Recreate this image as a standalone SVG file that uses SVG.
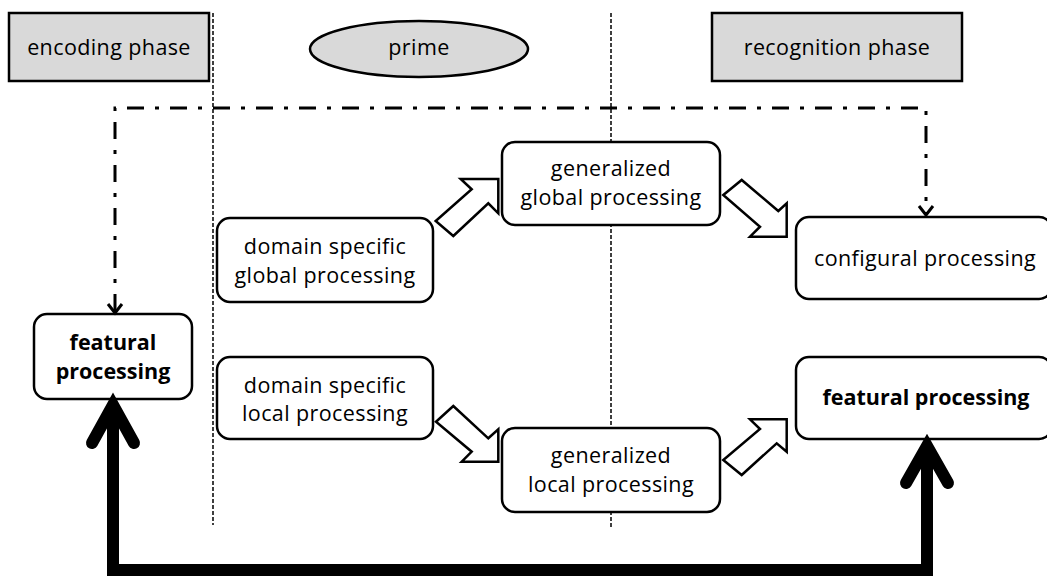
<svg xmlns="http://www.w3.org/2000/svg" width="1047" height="576" viewBox="0 0 1047 576">
<style>
.box{fill:#fff;stroke:#000;stroke-width:2.5}
.phase{fill:#d9d9d9;stroke:#000;stroke-width:2.5}
.t{font-family:"Open Sans","Liberation Sans",sans-serif;font-size:21.5px;letter-spacing:0.4px;fill:#000;text-anchor:middle}
.b{font-weight:bold;letter-spacing:0}
.sep{stroke:#000;stroke-width:1.5;stroke-dasharray:4 2;fill:none}
.dd{stroke:#000;stroke-width:3;stroke-dasharray:17 11 4 11;fill:none}
.blk{fill:#fff;stroke:#000;stroke-width:2.5;stroke-linejoin:miter}
.thick{fill:none;stroke:#000;stroke-width:12;stroke-linecap:round;stroke-linejoin:miter}
</style>
<g id="separators">
<line class="sep" x1="213" y1="13" x2="213" y2="525"/>
<line class="sep" x1="611" y1="13" x2="611" y2="527"/>
</g>
<g id="encoding-phase">
<rect class="phase" x="9" y="13" width="200" height="68"/>
<text class="t" x="109" y="55">encoding phase</text>
</g>
<g id="prime">
<ellipse class="phase" cx="419" cy="49" rx="109" ry="28"/>
<text class="t" x="419" y="55">prime</text>
</g>
<g id="recognition-phase">
<rect class="phase" x="712" y="13" width="250" height="68"/>
<text class="t" x="837" y="55">recognition phase</text>
</g>
<g id="featural-left">
<rect class="box" x="34" y="314" width="158" height="85" rx="13"/>
<text class="t b" x="113" y="350">featural</text>
<text class="t b" x="113" y="379">processing</text>
</g>
<g id="domain-global">
<rect class="box" x="217" y="218" width="216" height="84" rx="13"/>
<text class="t" x="325" y="254">domain specific</text>
<text class="t" x="325" y="283">global processing</text>
</g>
<g id="domain-local">
<rect class="box" x="217" y="357" width="216" height="82" rx="13"/>
<text class="t" x="325" y="393">domain specific</text>
<text class="t" x="325" y="421">local processing</text>
</g>
<g id="general-global">
<rect class="box" x="502" y="142" width="218" height="83" rx="13"/>
<text class="t" x="611" y="176">generalized</text>
<text class="t" x="611" y="205">global processing</text>
</g>
<g id="general-local">
<rect class="box" x="502" y="428" width="218" height="84" rx="13"/>
<text class="t" x="611" y="463">generalized</text>
<text class="t" x="611" y="492">local processing</text>
</g>
<g id="configural">
<rect class="box" x="796" y="217" width="256" height="82" rx="13"/>
<text class="t" x="925" y="266">configural processing</text>
</g>
<g id="featural-right">
<rect class="box" x="796" y="357" width="256" height="82" rx="13"/>
<text class="t b" x="926" y="405">featural processing</text>
</g>
<g id="connectors">
<path class="dd" d="M115,311 L115,108 L926,108 L926,214"/>
<path d="M108,304 L115,313 L122,304" fill="none" stroke="#000" stroke-width="3"/>
<path d="M919,206 L926,215 L933,206" fill="none" stroke="#000" stroke-width="3"/>
<path class="blk" d="M435.7,221 L471.7,189.3 L460.7,179 L498.3,179 L498.3,213.3 L488.3,203.3 L453.3,236 Z"/>
<path class="blk" d="M723.3,195 L741.7,180 L778.3,211 L786.7,203.3 L786.7,236.7 L750,236.7 L760,226.7 Z"/>
<path class="blk" d="M453.3,406 L488.3,438.3 L498.3,429.3 L498.3,461.7 L461.7,461.7 L471.7,451.7 L436,421.7 Z"/>
<path class="blk" d="M723.3,460 L741.7,475 L776.7,443.3 L786.7,451.7 L786.7,419.3 L750,419.3 L760,429 Z"/>
<path d="M113,410 L113,570 L927,570 L927,450" fill="none" stroke="#000" stroke-width="12" stroke-linejoin="miter"/>
<path class="thick" d="M92,443 L113,405 L134,443"/>
<path class="thick" d="M906,483 L927,446 L948,483"/>
<path d="M113,400 L105,414 L121,414 Z" fill="#000"/>
<path d="M927,441 L919,455 L935,455 Z" fill="#000"/>
</g>
</svg>
